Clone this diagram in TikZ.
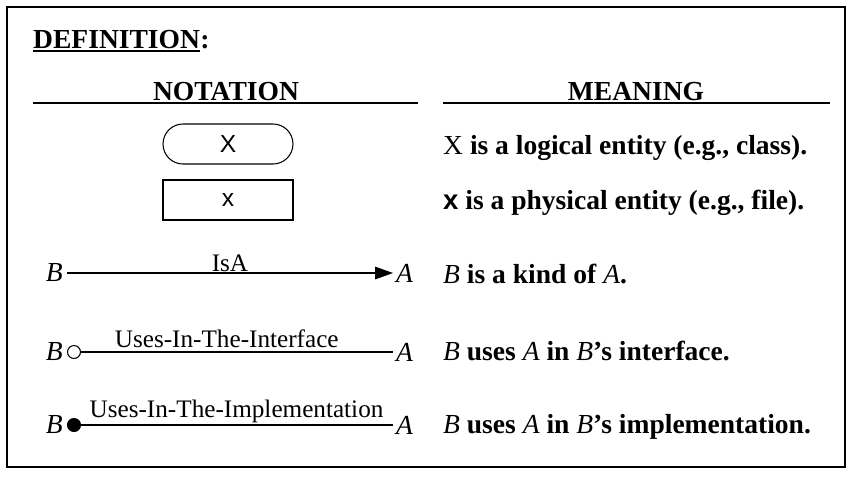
\documentclass[tikz,border=0pt]{standalone}
\usepackage{fontspec}
\setmainfont{Liberation Serif}
\newfontfamily\boxfont{Liberation Sans}
\usetikzlibrary{arrows.meta,positioning}
\newcommand{\defnfont}{\fontsize{23.5}{28}\selectfont}
\newcommand{\linklabelfont}{\fontsize{21.5}{26}\selectfont}
\newcommand{\itB}{\textnormal{\itshape B}}
\newcommand{\itA}{\textnormal{\itshape A}}

\begin{document}
\begin{tikzpicture}[
  x=0.3mm, y=-0.3mm,
  every node/.style={font=\defnfont},
  head/.style={font=\defnfont\bfseries,inner sep=0pt,anchor=base},
  meaning/.style={font=\defnfont\bfseries,inner sep=0pt,anchor=base west},
  logical/.style={draw,rounded corners=6mm,minimum width=39mm,minimum height=12mm,line width=0.9pt,font=\boxfont\fontsize{21}{24}\selectfont},
  physical/.style={draw,minimum width=39mm,minimum height=12mm,line width=0.9pt,font=\boxfont\fontsize{21}{24}\selectfont},
  bnode/.style={font=\defnfont\itshape,inner xsep=1.2mm,inner ysep=0pt,anchor=east},
  anode/.style={font=\defnfont\itshape,inner xsep=0.9mm,inner ysep=0pt,anchor=west},
  link/.style={line width=0.9pt},
  lab/.style={font=\linklabelfont,inner sep=1pt,above},
  rulestyle/.style={line width=0.9pt}
]
\useasboundingbox (0,0) rectangle (858,480);
\draw[line width=1.5pt] (7,7) rectangle (845,467);

\node[head,anchor=base west] (defn) at (33,48) {DEFINITION};
\node[head,anchor=base west] (colon) at (defn.base east) {:};
\draw[line width=1.2pt] ([yshift=-2.5pt]defn.base west) -- ([yshift=-2.5pt]defn.base east);

\node[head] (notation) at (226,100) {NOTATION};
\node[head] (meaninghead) at (636,100) {MEANING};
\draw[rulestyle] (33,103) -- (418,103);
\draw[rulestyle] (443,103) -- (830,103);

\node[logical] (logX) at (228,144) {X};
\node[physical] (physX) at (228,200) {x};

\node[bnode] (b1) at (67,273) {B};
\node[anode] (a1) at (393,273) {A};
\draw[link,-{Triangle[length=5.4mm,width=3.8mm]}] (b1) -- node[lab] {IsA} (a1);

\node[bnode] (b2) at (67,352) {B};
\node[anode] (a2) at (393,352) {A};
\draw[link,{Circle[open,length=4.2mm]}-] (b2) -- node[lab,yshift=2pt,pos=0.49] {Uses-In-The-Interface} (a2);

\node[bnode] (b3) at (67,425) {B};
\node[anode] (a3) at (393,425) {A};
\draw[link,{Circle[length=4.2mm]}-] (b3) -- node[lab,pos=0.52] {Uses-In-The-Implementation} (a3);

\node[meaning] (m1) at (443,154) {\textnormal{X} is a logical entity (e.g., class).};
\node[meaning] (m2) at (443,209) {{\boxfont x} is a physical entity (e.g., file).};
\node[meaning] (m3) at (443,283) {\itB{} is a kind of \itA.};
\node[meaning] (m4) at (443,360) {\itB{} uses \itA{} in \itB's interface.};
\node[meaning] (m5) at (443,433) {\itB{} uses \itA{} in \itB's implementation.};

\end{tikzpicture}
\end{document}
